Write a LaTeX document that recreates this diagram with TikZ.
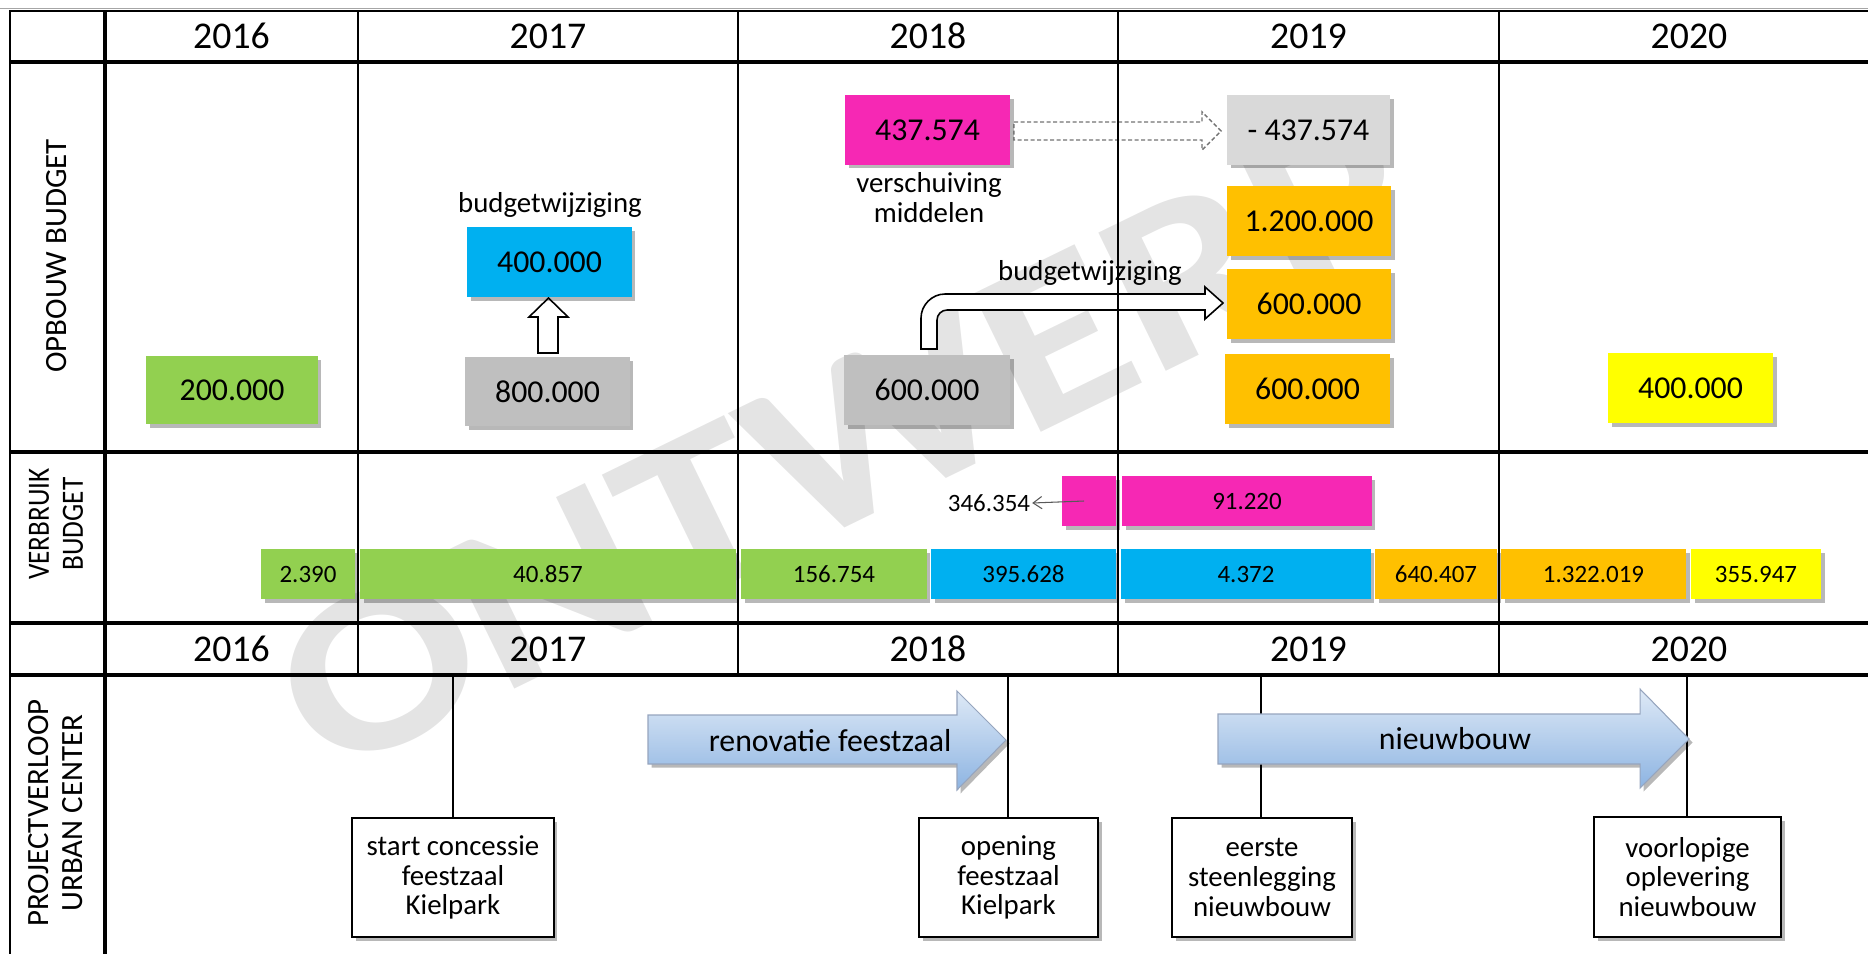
\documentclass[tikz,border=0pt]{standalone}
\usepackage{fontspec}
\usepackage{graphicx}
\setmainfont{Carlito}
\newfontfamily\wmfont[FakeStretch=1.2]{Carlito}
\usetikzlibrary{shadows,arrows.meta,calc}
\definecolor{cgreen}{RGB}{146,208,80}
\definecolor{cblue}{RGB}{0,176,240}
\definecolor{cpink}{RGB}{246,40,180}
\definecolor{cgray}{RGB}{191,191,191}
\definecolor{clgray}{RGB}{217,217,217}
\definecolor{corange}{RGB}{255,192,0}
\definecolor{cyellow}{RGB}{255,255,0}
\definecolor{wm}{RGB}{228,228,228}
\definecolor{arrtop}{RGB}{222,233,246}
\definecolor{arrbot}{RGB}{141,180,226}
\definecolor{arredge}{RGB}{150,165,190}
\begin{document}
\begin{tikzpicture}[x=0.02cm, y=-0.02cm,
  shadowed/.style={drop shadow={shadow xshift=0.07cm, shadow yshift=-0.07cm, opacity=0.28, fill=black}},
  nbox/.style={shadowed, inner sep=0pt, minimum height=1.4cm, font=\fontsize{18.1pt}{20pt}\selectfont},
  vbox/.style={shadowed, inner sep=0pt, minimum height=1.0cm, font=\fontsize{14.2pt}{16pt}\selectfont},
  yearlab/.style={inner sep=0pt, font=\fontsize{21.5pt}{24pt}\selectfont},
  rowlab/.style={rotate=90, align=center, inner sep=0pt, font=\fontsize{17.6pt}{19.3pt}\selectfont},
  note/.style={align=center, inner sep=0pt, font=\fontsize{16.4pt}{17pt}\selectfont},
  mbox/.style={shadowed, draw, line width=1.1pt, fill=white, align=center, inner sep=0pt, minimum height=2.38cm, font=\fontsize{16.4pt}{17pt}\selectfont},
  heavy/.style={line width=2pt},
  colline/.style={line width=1.3pt},
  mline/.style={line width=0.8pt},
  blockarrow/.style={shadowed, draw=arredge, line width=0.6pt, top color=arrtop, bottom color=arrbot},
  arrlab/.style={inner sep=0pt, font=\fontsize{18.1pt}{20pt}\selectfont},
  hollow/.style={draw, line width=0.9pt, fill=white, line join=miter},
  dashedarrow/.style={draw=black!55, line width=0.8pt, fill=white, dash pattern=on 2.3pt off 1.4pt},
  thinarrow/.style={draw=black!65, line width=0.6pt, -{Straight Barb[length=5pt,width=7pt]}}
]
\useasboundingbox (0,0) rectangle (1868,954);
% watermark
\node[rotate=26, inner sep=0pt, text=wm, font=\wmfont\bfseries\fontsize{135pt}{135pt}\selectfont] (wmark) at (845,442) {ONTWERP};

% arrows drawn under the grid lines
\path[hollow] (538,353) -- (538,317) -- (529,317) -- (548.5,298) -- (568,317) -- (558,317) -- (558,353) -- cycle;
\path[dashedarrow] (1014,122) -- (1202,122) -- (1202,112) -- (1221,131) -- (1202,150) -- (1202,140) -- (1014,140) -- cycle;
\path[hollow] (921,349) -- (921,318) .. controls (921,305) and (932,294) .. (945,294) -- (1205,294) -- (1205,287) -- (1223,303) -- (1205,319) -- (1205,310) -- (947,310) .. controls (941.5,310) and (937,314.5) .. (937,320) -- (937,349) -- cycle;

% grid
\draw[black!35, line width=0.5pt] (0,8.5) -- (1868,8.5);
\draw[line width=1.3pt] (10,11) -- (1868,11);
\draw[heavy] (10,62) -- (1868,62);
\draw[heavy] (10,452) -- (1868,452);
\draw[heavy] (10,623) -- (1868,623);
\draw[heavy] (10,675) -- (1868,675);
\draw[line width=1.4pt] (10,10) -- (10,954);
\draw[heavy] (105,10) -- (105,954);
\foreach \x in {358,738,1118,1499} \draw[colline] (\x,10) -- (\x,675);

% year headers
\node[yearlab] (h16) at (231.5,36) {2016};
\node[yearlab] (h17) at (548,36) {2017};
\node[yearlab] (h18) at (928,36) {2018};
\node[yearlab] (h19) at (1308.5,36) {2019};
\node[yearlab] (h20) at (1689,36) {2020};
\node[yearlab] (k16) at (231.5,649) {2016};
\node[yearlab] (k17) at (548,649) {2017};
\node[yearlab] (k18) at (928,649) {2018};
\node[yearlab] (k19) at (1308.5,649) {2019};
\node[yearlab] (k20) at (1689,649) {2020};

% row labels
\node[rowlab] (rl1) at (57,256) {OPBOUW BUDGET};
\node[rowlab] (rl2) at (56,524) {\scalebox{0.88}[1]{VERBRUIK}\\\scalebox{0.88}[1]{BUDGET}};
\node[rowlab] (rl3) at (56,813) {PROJECTVERLOOP\\URBAN CENTER};

% opbouw budget
\node[nbox, fill=cgreen, minimum width=3.44cm, minimum height=1.36cm] (g200) at (232,390) {200.000};
\node[note] (bw1) at (550,205) {budgetwijziging};
\node[nbox, fill=cblue, minimum width=3.3cm] (b400) at (549.5,262) {400.000};
\node[nbox, fill=cgray, minimum width=3.3cm, minimum height=1.38cm] (gr800) at (547.5,391.5) {800.000};
\node[nbox, fill=cpink, minimum width=3.3cm] (p437) at (927.5,130) {437.574};
\node[note] (versch) at (929,198) {verschuiving\\middelen};
\node[nbox, fill=cgray, minimum width=3.32cm] (gr600) at (927,390) {600.000};
\node[nbox, fill=clgray, minimum width=3.26cm] (lg437) at (1308.5,130) {- 437.574};
\node[nbox, fill=corange, minimum width=3.28cm] (o1200) at (1309,221) {1.200.000};
\node[nbox, fill=corange, minimum width=3.28cm] (o600a) at (1309,304) {600.000};
\node[nbox, fill=corange, minimum width=3.3cm] (o600b) at (1307.5,389) {600.000};
\node[nbox, fill=cyellow, minimum width=3.3cm] (y400) at (1690.5,388) {400.000};
\node[note] (bw2) at (1090,273) {budgetwijziging};

% verbruik budget
\node[vbox, fill=cgreen, minimum width=1.88cm] (v2390) at (308,574) {2.390};
\node[vbox, fill=cgreen, minimum width=7.52cm] (v40857) at (548,574) {40.857};
\node[vbox, fill=cgreen, minimum width=3.72cm] (v156754) at (834,574) {156.754};
\node[vbox, fill=cblue, minimum width=3.7cm] (v395628) at (1023.5,574) {395.628};
\node[vbox, fill=cblue, minimum width=5.0cm] (v4372) at (1246,574) {4.372};
\node[vbox, fill=corange, minimum width=2.44cm] (v640407) at (1436,574) {640.407};
\node[vbox, fill=corange, minimum width=3.7cm] (v1322019) at (1593.5,574) {1.322.019};
\node[vbox, fill=cyellow, minimum width=2.6cm] (v355947) at (1756,574) {355.947};
\node[vbox, fill=cpink, minimum width=1.08cm] (vps) at (1089,501) {};
\node[vbox, fill=cpink, minimum width=5.0cm] (v91220) at (1247,501) {91.220};
\node[inner sep=1pt, font=\fontsize{14.2pt}{16pt}\selectfont] (t346) at (989,503) {346.354};
\draw[thinarrow] ([xshift=-0.1cm]vps.center) -- (t346.east);

% projectverloop
\node[mbox, minimum width=4.04cm] (m1) at (453,877.5) {start concessie\\feestzaal\\Kielpark};
\node[mbox, minimum width=3.58cm] (m2) at (1008.5,877.5) {opening\\feestzaal\\Kielpark};
\node[mbox, minimum width=3.6cm] (m3) at (1262,877.5) {eerste\\steenlegging\\nieuwbouw};
\node[mbox, minimum width=3.74cm, minimum height=2.4cm] (m4) at (1687.5,877) {voorlopige\\oplevering\\nieuwbouw};
\coordinate (top1) at (453,677);
\coordinate (top2) at (1008,677);
\coordinate (top3) at (1261,677);
\coordinate (top4) at (1687,677);
\draw[mline] (top1) -- (m1.north -| top1);
\draw[mline] (top2) -- (m2.north -| top2);
\draw[mline] (top3) -- (m3.north -| top3);
\draw[mline] (top4) -- (m4.north -| top4);
\path[blockarrow] (648,715) -- (957,715) -- (957,691) -- (1006,740) -- (957,790) -- (957,764) -- (648,764) -- cycle;
\path[blockarrow] (1218,714) -- (1640,714) -- (1640,689) -- (1689,739) -- (1640,788) -- (1640,764) -- (1218,764) -- cycle;
\node[arrlab] (renov) at (830,741) {renovatie feestzaal};
\node[arrlab] (nieuw) at (1455,739) {nieuwbouw};
\end{tikzpicture}
\end{document}
